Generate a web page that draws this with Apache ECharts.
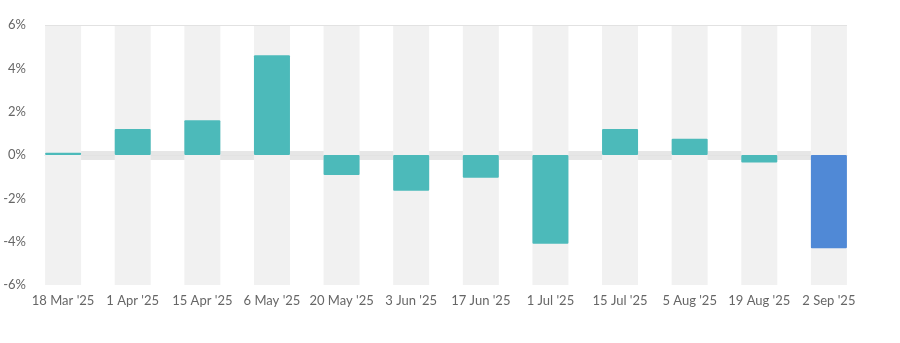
<!DOCTYPE html>
<html>
<head>
<meta charset="utf-8">
<script src="https://cdn.jsdelivr.net/npm/echarts@6/dist/echarts.min.js"></script>
<style>html,body{margin:0;padding:0;background:#fff}#c{width:900px;height:343px}</style>
</head>
<body>
<div id="c"></div>
<script>
const categories = ["18 Mar '25","1 Apr '25","15 Apr '25","6 May '25","20 May '25","3 Jun '25","17 Jun '25","1 Jul '25","15 Jul '25","5 Aug '25","19 Aug '25","2 Sep '25"];
const values = [0.1, 1.2, 1.6, 4.6, -0.92, -1.65, -1.05, -4.1, 1.2, 0.75, -0.35, -4.3];
const yTicks = [-6, -4, -2, 0, 2, 4, 6];

const TEAL = '#4cbaba', BLUE = '#5089d6';
const idx = categories.map((_, i) => i);
const chart = echarts.init(document.getElementById('c'), null, {renderer: 'canvas'});
chart.setOption({
  animation: false,
  grid: {left: 45, right: 53, top: 25, bottom: 58},
  xAxis: {
    type: 'value', min: -0.26, max: categories.length - 1 + 0.26,
    splitLine: {show: false},
    axisTick: {show: false},
    axisLine: {show: true, lineStyle: {color: '#e2e2e2', width: 1}},
    axisLabel: {
      customValues: idx, margin: 9,
      formatter: v => categories[Math.round(v)] || '',
      color: '#666', fontFamily: 'Lato', fontSize: 13
    }
  },
  yAxis: {
    type: 'value', min: yTicks[0], max: yTicks[yTicks.length - 1], interval: 2,
    splitLine: {show: false},
    axisLine: {show: false}, axisTick: {show: false},
    axisLabel: {formatter: '{value}%', color: '#666', fontFamily: 'Lato', fontSize: 13, margin: 19}
  },
  series: [
    {
      type: 'line', data: [], z: 0, silent: true,
      markLine: {
        z: 0, zlevel: 0,
        symbol: 'none', silent: true, label: {show: false},
        data: [
          {yAxis: 0, lineStyle: {color: '#e6e6e6', width: 9, type: 'solid'}}
        ]
      }
    },
    {
      type: 'line', data: [], z: 5, silent: true,
      markLine: {
        symbol: 'none', silent: true, label: {show: false},
        data: [
          {yAxis: yTicks[yTicks.length - 1], lineStyle: {color: '#e2e2e2', width: 1, type: 'solid'}}
        ]
      }
    },
    {
      type: 'bar', z: 2,
      barWidth: 36,
      showBackground: true,
      backgroundStyle: {color: '#f1f1f1'},
      itemStyle: {
        borderRadius: 1,
        color: p => p.dataIndex === values.length - 1 ? BLUE : TEAL
      },
      data: values.map((v, i) => [i, v])
    }
  ]
});
</script>
</body>
</html>
